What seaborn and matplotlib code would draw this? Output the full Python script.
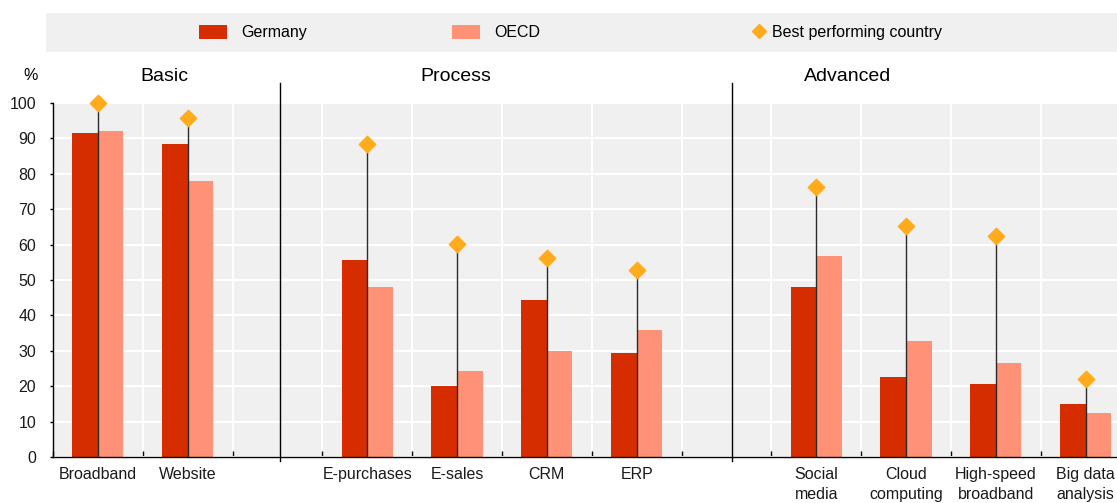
import numpy as np
import pandas as pd
import matplotlib.pyplot as plt
import seaborn as sns
from matplotlib.patches import Patch, Rectangle
from matplotlib.lines import Line2D

# values (%)
categories = ['Broadband', 'Website', 'E-purchases', 'E-sales', 'CRM', 'ERP',
              'Social media', 'Cloud computing', 'High-speed broadband', 'Big data analysis']
tick_labels = ['Broadband', 'Website', 'E-purchases', 'E-sales', 'CRM', 'ERP',
               'Social\nmedia', 'Cloud\ncomputing', 'High-speed\nbroadband', 'Big data\nanalysis']
germany = [91.6, 88.3, 55.6, 20.1, 44.3, 29.3, 48.0, 22.5, 20.6, 15.1]
oecd = [92.1, 78.0, 48.1, 24.4, 29.9, 35.9, 56.8, 32.8, 26.6, 12.5]
best = [100.0, 95.8, 88.3, 60.3, 56.1, 52.7, 76.3, 65.3, 62.3, 22.0]
groups = ['Basic', 'Process', 'Advanced']
series = ['Germany', 'OECD']

c_ger = '#d62d00'
c_oecd = '#ff9177'
c_best = '#ffab1c'
c_bg = '#f0f0f0'

# category slots with an empty slot between each group
order = categories[:2] + ['gap1'] + categories[2:6] + ['gap2'] + categories[6:]
labels = tick_labels[:2] + [''] + tick_labels[2:6] + [''] + tick_labels[6:]

df = pd.DataFrame({
    'category': categories * 2,
    'series': ['Germany'] * len(categories) + ['OECD'] * len(categories),
    'value': germany + oecd,
})

plt.rcParams['font.family'] = ['Liberation Sans', 'DejaVu Sans']
plt.rcParams['font.size'] = 11

fig = plt.figure(figsize=(11.17, 5.03), dpi=100)
ax = fig.add_axes([53 / 1117, 46 / 503, 1064 / 1117, 354 / 503])
ax.set_facecolor(c_bg)

sns.barplot(data=df, x='category', y='value', hue='series', order=order,
            hue_order=series, palette=[c_ger, c_oecd], width=0.57,
            saturation=1, legend=False, ax=ax, zorder=2)

pos = [order.index(c) for c in categories]
ax.vlines(pos, 0, best, color='#2a2a2a', lw=1, zorder=3)
ax.scatter(pos, best, marker='D', s=70, color=c_best, zorder=4, clip_on=False)

ax.set_yticks(np.arange(0, 101, 10))
ax.set_xticks(range(len(order)))
ax.set_xticklabels(labels, color='#1a1a1a', linespacing=1.45, fontsize=11.5)
ax.set_xticks(np.arange(-0.5, 12, 1), minor=True)
ax.set_xlim(-0.5, 11.35)
ax.set_ylim(0, 100)
ax.set_xlabel('')
ax.set_ylabel('')

ax.set_axisbelow(True)
ax.grid(axis='y', color='white', lw=1.5)
ax.grid(axis='x', which='minor', color='white', lw=1.5)
ax.grid(axis='x', which='major', visible=False)

for s in ['top', 'right']:
    ax.spines[s].set_visible(False)
for s in ['left', 'bottom']:
    ax.spines[s].set_color('black')
    ax.spines[s].set_linewidth(1)

ax.tick_params(axis='x', which='major', length=0, pad=7)
ax.tick_params(axis='x', which='minor', direction='in', length=4, width=1, color='black')
ax.tick_params(axis='y', direction='out', length=2, width=1, pad=10,
               labelcolor='#1a1a1a', labelsize=11.5)

# group separators and headers
for x in [2.03, 7.06]:
    ax.plot([x, x], [-1.1, 105.6], color='black', lw=1, clip_on=False, zorder=5)
for name, x in zip(groups, [0.74, 3.99, 8.35]):
    ax.text(x, 107.6, name, ha='center', va='center', fontsize=14, clip_on=False)

fig.text(31 / 1117, 1 - 75 / 503, '%', ha='center', va='center', fontsize=11.5)

# legend band
fig.patches.append(Rectangle((46 / 1117, 1 - 52 / 503), 1 - 46 / 1117, 39 / 503,
                             transform=fig.transFigure, facecolor=c_bg,
                             edgecolor='none', zorder=0))
ly = 1 - 32.5 / 503
leg_kw = dict(loc='center left', frameon=False, fontsize=11.5,
              borderpad=0, borderaxespad=0)
fig.legend(handles=[Patch(facecolor=c_ger, edgecolor='none', label='Germany')],
           bbox_to_anchor=(199 / 1117, ly), handlelength=1.75, handleheight=0.95,
           handletextpad=0.9, **leg_kw)
fig.legend(handles=[Patch(facecolor=c_oecd, edgecolor='none', label='OECD')],
           bbox_to_anchor=(452 / 1117, ly), handlelength=1.75, handleheight=0.95,
           handletextpad=0.9, **leg_kw)
fig.legend(handles=[Line2D([], [], marker='D', color=c_best, linestyle='none',
                           markersize=7, label='Best performing country')],
           bbox_to_anchor=(753 / 1117, ly), handlelength=0.8,
           handletextpad=0.4, **leg_kw)

fig.savefig('out.png', dpi=100)
